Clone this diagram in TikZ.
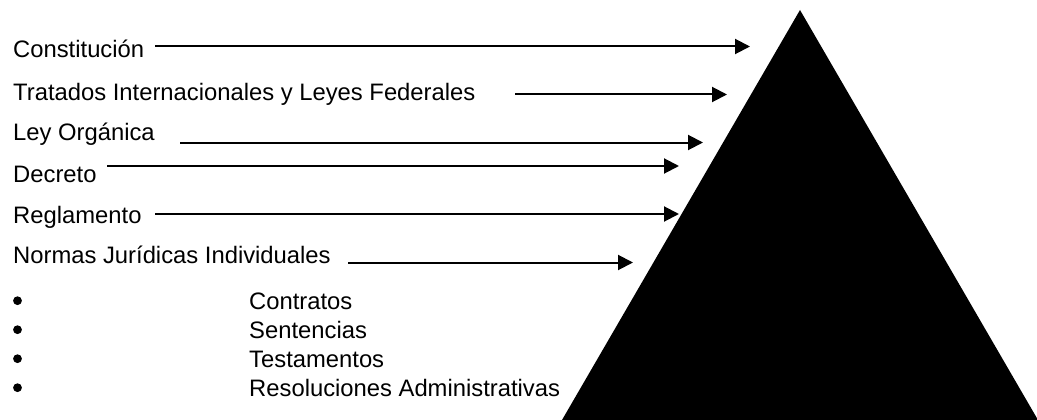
\documentclass[tikz,border=0pt]{standalone}
\usepackage{fontspec}
\setmainfont{Liberation Sans}
\usetikzlibrary{arrows.meta}

\tikzset{
	nivel/.style={anchor=base west,inner sep=0pt,font=\fontsize{23.8pt}{28pt}\selectfont},
	flecha/.style={line width=2pt},
	vineta/.style={fill=black}
}

\begin{document}
\begin{tikzpicture}[>={Triangle[length=15pt,width=15pt]},x=1pt,y=1pt]
					\useasboundingbox (0,0) rectangle (1037,-420);
					\clip (0,0) rectangle (1037,-420);
					% piramide
					\fill (800,-10) -- (562,-420) -- (1038,-420) -- cycle;

					\node (constitucion) [nivel] at (13,-58) {Constitución};
					\node (tratados) [nivel] at (13,-100) {Tratados Internacionales y Leyes Federales};
					\node (ley) [nivel] at (13,-140) {Ley Orgánica};
					\node (decreto) [nivel] at (13,-182) {Decreto};
					\node (reglamento) [nivel] at (13,-223) {Reglamento};
					\node (normas) [nivel] at (13,-263) {Normas Jurídicas Individuales};

					\node (contratos) [nivel] at (249,-309) {Contratos};
					\node (sentencias) [nivel] at (249,-338) {Sentencias};
					\node (testamentos) [nivel] at (249,-367) {Testamentos};
					\node (resoluciones) [nivel] at (249,-396) {Resoluciones Administrativas};

					% vinetas
					\path[vineta] ([xshift=-231.5pt,yshift=8.3pt]contratos.base west) circle (4.4pt);
					\path[vineta] ([xshift=-231.5pt,yshift=8.3pt]sentencias.base west) circle (4.4pt);
					\path[vineta] ([xshift=-231.5pt,yshift=8.3pt]testamentos.base west) circle (4.4pt);
					\path[vineta] ([xshift=-231.5pt,yshift=8.3pt]resoluciones.base west) circle (4.4pt);

					\coordinate (c1) at (155,-46.5);
					\coordinate (t1) at (750,-46.5);
					\coordinate (c2) at (515,-94.5);
					\coordinate (t2) at (727,-94.5);
					\coordinate (c3) at (180,-142.5);
					\coordinate (t3) at (703,-142.5);
					\coordinate (c4) at (107,-166);
					\coordinate (t4) at (679,-166);
					\coordinate (c5) at (155,-214);
					\coordinate (t5) at (679,-214);
					\coordinate (c6) at (348,-262.5);
					\coordinate (t6) at (633,-262.5);

					\path[->,flecha] (c1) edge (t1)
						(c2) edge (t2)
						(c3) edge (t3)
						(c4) edge (t4)
						(c5) edge (t5)
						(c6) edge (t6);
				\end{tikzpicture}
\end{document}
